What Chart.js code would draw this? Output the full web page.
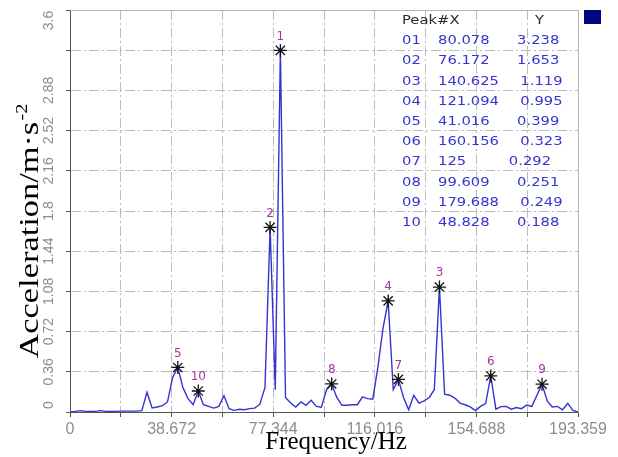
<!DOCTYPE html>
<html>
<head>
<meta charset="utf-8">
<script src="https://cdn.jsdelivr.net/npm/chart.js@4.4.1/dist/chart.umd.min.js"></script>
<style>
  html, body { margin: 0; padding: 0; background: #ffffff; }
  #wrap { width: 618px; height: 457px; }
</style>
</head>
<body>
<div id="wrap"><canvas id="c" width="618" height="457"></canvas></div>
<script>
// ---- spectrum (frequency bins, Hz) ----
const freqHz = [
  0, 1.953, 3.906, 5.859, 7.813, 9.766, 11.719, 13.672, 15.625, 17.578,
  19.531, 21.484, 23.438, 25.391, 27.344, 29.297, 31.25, 33.203, 35.156, 37.109,
  39.063, 41.016, 42.969, 44.922, 46.875, 48.828, 50.781, 52.734, 54.688, 56.641,
  58.594, 60.547, 62.5, 64.453, 66.406, 68.359, 70.313, 72.266, 74.219, 76.172,
  78.125, 80.078, 82.031, 83.984, 85.938, 87.891, 89.844, 91.797, 93.75, 95.703,
  97.656, 99.609, 101.563, 103.516, 105.469, 107.422, 109.375, 111.328, 113.281, 115.234,
  117.188, 119.141, 121.094, 123.047, 125, 126.953, 128.906, 130.859, 132.813, 134.766,
  136.719, 138.672, 140.625, 142.578, 144.531, 146.484, 148.438, 150.391, 152.344, 154.297,
  156.25, 158.203, 160.156, 162.109, 164.063, 166.016, 167.969, 169.922, 171.875, 173.828,
  175.781, 177.734, 179.688, 181.641, 183.594, 185.547, 187.5, 189.453, 191.406, 193.359
];
// ---- acceleration amplitude (m/s^2) ----
const accel = [
  0.003, 0.005, 0.012, 0.006, 0.005, 0.006, 0.012, 0.006, 0.005, 0.006,
  0.008, 0.008, 0.008, 0.008, 0.012, 0.177, 0.036, 0.045, 0.057, 0.09,
  0.31, 0.399, 0.22, 0.12, 0.065, 0.188, 0.065, 0.05, 0.035, 0.05,
  0.146, 0.03, 0.015, 0.025, 0.02, 0.03, 0.035, 0.07, 0.22, 1.653,
  0.2, 3.238, 0.13, 0.08, 0.045, 0.09, 0.06, 0.105, 0.05, 0.042,
  0.2, 0.251, 0.13, 0.06, 0.06, 0.065, 0.065, 0.135, 0.12, 0.115,
  0.4, 0.75, 0.995, 0.2, 0.292, 0.13, 0.02, 0.15, 0.08, 0.1,
  0.13, 0.2, 1.119, 0.16, 0.15, 0.125, 0.08, 0.065, 0.045, 0.012,
  0.05, 0.075, 0.323, 0.025, 0.048, 0.05, 0.025, 0.04, 0.03, 0.063,
  0.05, 0.15, 0.249, 0.1, 0.045, 0.05, 0.02, 0.078, 0.015, 0.0
];
// ---- peak table ----
const peakIds = ['01','02','03','04','05','06','07','08','09','10'];
const peakMarks = ['1','2','3','4','5','6','7','8','9','10'];
const peakFreqText = ['80.078','76.172','140.625','121.094','41.016','160.156','125','99.609','179.688','48.828'];
const peakAccelText = ['3.238','1.653','1.119','0.995','0.399','0.323','0.292','0.251','0.249','0.188'];
const peakFreq = [80.078, 76.172, 140.625, 121.094, 41.016, 160.156, 125, 99.609, 179.688, 48.828];
const peakAccel = [3.238, 1.653, 1.119, 0.995, 0.399, 0.323, 0.292, 0.251, 0.249, 0.188];
// ---- axes ----
const xTickValues = [0, 19.336, 38.672, 58.008, 77.344, 96.68, 116.016, 135.352, 154.688, 174.023, 193.359];
const xTickLabels = ['0', '', '38.672', '', '77.344', '', '116.016', '', '154.688', '', '193.359'];
const yTickValues = [0, 0.36, 0.72, 1.08, 1.44, 1.8, 2.16, 2.52, 2.88, 3.24, 3.6];
const yTickLabels = ['0', '0.36', '0.72', '1.08', '1.44', '1.8', '2.16', '2.52', '2.88', '', '3.6'];
const xTitle = 'Frequency/Hz';
const yTitleMain = 'Acceleration/m\u00b7s';
const yTitleSup = '-2';

const lineData = freqHz.map((f, i) => ({ x: f, y: accel[i] }));
const peakData = peakFreq.map((f, i) => ({ x: f, y: peakAccel[i] }));

// keep the end labels of the rotated y axis inside the plot range
function yLabel(i) {
  const s = yTickLabels[i];
  if (i === 0) return '\u2002\u2002' + s;
  if (i === yTickLabels.length - 1) return s + '\u2002\u2002\u2002';
  return s;
}

const decor = {
  id: 'decor',
  afterDraw(chart) {
    const { ctx, chartArea: a } = chart;
    ctx.save();
    // top / right frame
    ctx.strokeStyle = '#b4b4b4';
    ctx.lineWidth = 1;
    ctx.setLineDash([]);
    ctx.beginPath();
    const L = Math.round(a.left) + 0.5, T = Math.round(a.top) + 0.5;
    const R = Math.round(a.right) + 0.5, B = Math.round(a.bottom) + 0.5;
    ctx.moveTo(L, T); ctx.lineTo(R, T); ctx.lineTo(R, B);
    ctx.stroke();

    // legend square
    ctx.fillStyle = '#06067f';
    ctx.fillRect(584, 10, 17, 14);

    // peak numbers
    const meta = chart.getDatasetMeta(0);
    ctx.fillStyle = '#a2379d';
    ctx.font = '12px "DejaVu Sans"';
    ctx.textAlign = 'center';
    ctx.textBaseline = 'middle';
    meta.data.forEach((pt, i) => {
      ctx.fillText(peakMarks[i], pt.x, pt.y - 14);
    });

    // peak table
    const sx = 1.18;
    const tableText = (txt, x, y, color) => {
      ctx.save();
      ctx.translate(x, y);
      ctx.scale(sx, 1);
      ctx.fillStyle = color;
      ctx.textAlign = 'left';
      ctx.textBaseline = 'middle';
      ctx.fillText(txt, 0, 0);
      ctx.restore();
    };
    ctx.font = '12.5px "DejaVu Sans"';
    tableText('Peak#X', 402, 21, '#2a2a2a');
    tableText('Y', 535, 21, '#2a2a2a');
    for (let i = 0; i < peakIds.length; i++) {
      const y = 41 + 20.2 * i;
      tableText(peakIds[i], 402, y, '#3535cf');
      tableText(peakFreqText[i], 438, y, '#3535cf');
      const w = ctx.measureText(peakFreqText[i]).width * sx;
      tableText(peakAccelText[i], 499 + 0.35 * w, y, '#3535cf');
    }

    // x title
    ctx.fillStyle = '#000000';
    ctx.font = '25px "Liberation Serif"';
    ctx.textAlign = 'center';
    ctx.textBaseline = 'alphabetic';
    ctx.fillText(xTitle, 336, 449);

    // y title (rotated, with superscript)
    ctx.save();
    ctx.font = '27px "Liberation Serif"';
    const w1 = ctx.measureText(yTitleMain).width;
    ctx.font = '16px "Liberation Serif"';
    const w2 = ctx.measureText(yTitleSup).width;
    const total = w1 + w2 + 1;
    const k = 255 / total;
    ctx.translate(38, 231);
    ctx.rotate(-Math.PI / 2);
    ctx.scale(k, 1);
    ctx.textAlign = 'left';
    ctx.textBaseline = 'alphabetic';
    ctx.font = '27px "Liberation Serif"';
    ctx.fillText(yTitleMain, -total / 2, 0);
    ctx.font = '16px "Liberation Serif"';
    ctx.fillText(yTitleSup, -total / 2 + w1 + 1, -11);
    ctx.restore();

    ctx.restore();
  }
};

new Chart(document.getElementById('c'), {
  data: {
    datasets: [
      {
        type: 'scatter',
        data: peakData,
        order: 0,
        showLine: false,
        pointStyle: 'star',
        pointRadius: 6.5,
        pointBorderWidth: 1.3,
        borderColor: '#111111',
        backgroundColor: '#111111'
      },
      {
        type: 'line',
        data: lineData,
        order: 1,
        borderColor: '#3333d4',
        borderWidth: 1.4,
        pointRadius: 0,
        tension: 0,
        fill: false
      }
    ]
  },
  options: {
    responsive: false,
    animation: false,
    devicePixelRatio: 1,
    layout: { padding: { left: 0, right: 40, top: 10, bottom: 0 } },
    plugins: { legend: { display: false }, tooltip: { enabled: false } },
    scales: {
      x: {
        type: 'linear',
        min: 0,
        max: 193.359,
        afterBuildTicks: s => { s.ticks = xTickValues.map(v => ({ value: v })); },
        afterFit: s => { s.height = 45; s.paddingLeft = 0; s.paddingRight = 0; },
        ticks: {
          autoSkip: false,
          maxRotation: 0,
          minRotation: 0,
          padding: 3,
          color: '#8c8c8c',
          font: { family: '"Liberation Sans"', size: 16 },
          callback: (v, i) => xTickLabels[i]
        },
        grid: {
          color: '#bcbcbc',
          lineWidth: 1,
          tickLength: 5,
          tickColor: '#555555',
          drawTicks: true
        },
        border: { display: true, color: '#555555', width: 1, dash: [10, 3, 2, 3] }
      },
      y: {
        type: 'linear',
        min: 0,
        max: 3.6,
        afterBuildTicks: s => { s.ticks = yTickValues.map(v => ({ value: v })); },
        afterFit: s => { s.width = 70; s.paddingTop = 0; s.paddingBottom = 0; },
        ticks: {
          autoSkip: false,
          minRotation: 90,
          maxRotation: 90,
          crossAlign: 'center',
          padding: -3,
          color: '#8c8c8c',
          font: { family: '"Liberation Sans"', size: 14 },
          callback: (v, i) => yLabel(i)
        },
        grid: {
          color: '#bcbcbc',
          lineWidth: 1,
          tickLength: 4,
          tickColor: '#555555',
          drawTicks: true
        },
        border: { display: true, color: '#555555', width: 1, dash: [10, 3, 2, 3] }
      }
    }
  },
  plugins: [decor]
});
</script>
</body>
</html>
